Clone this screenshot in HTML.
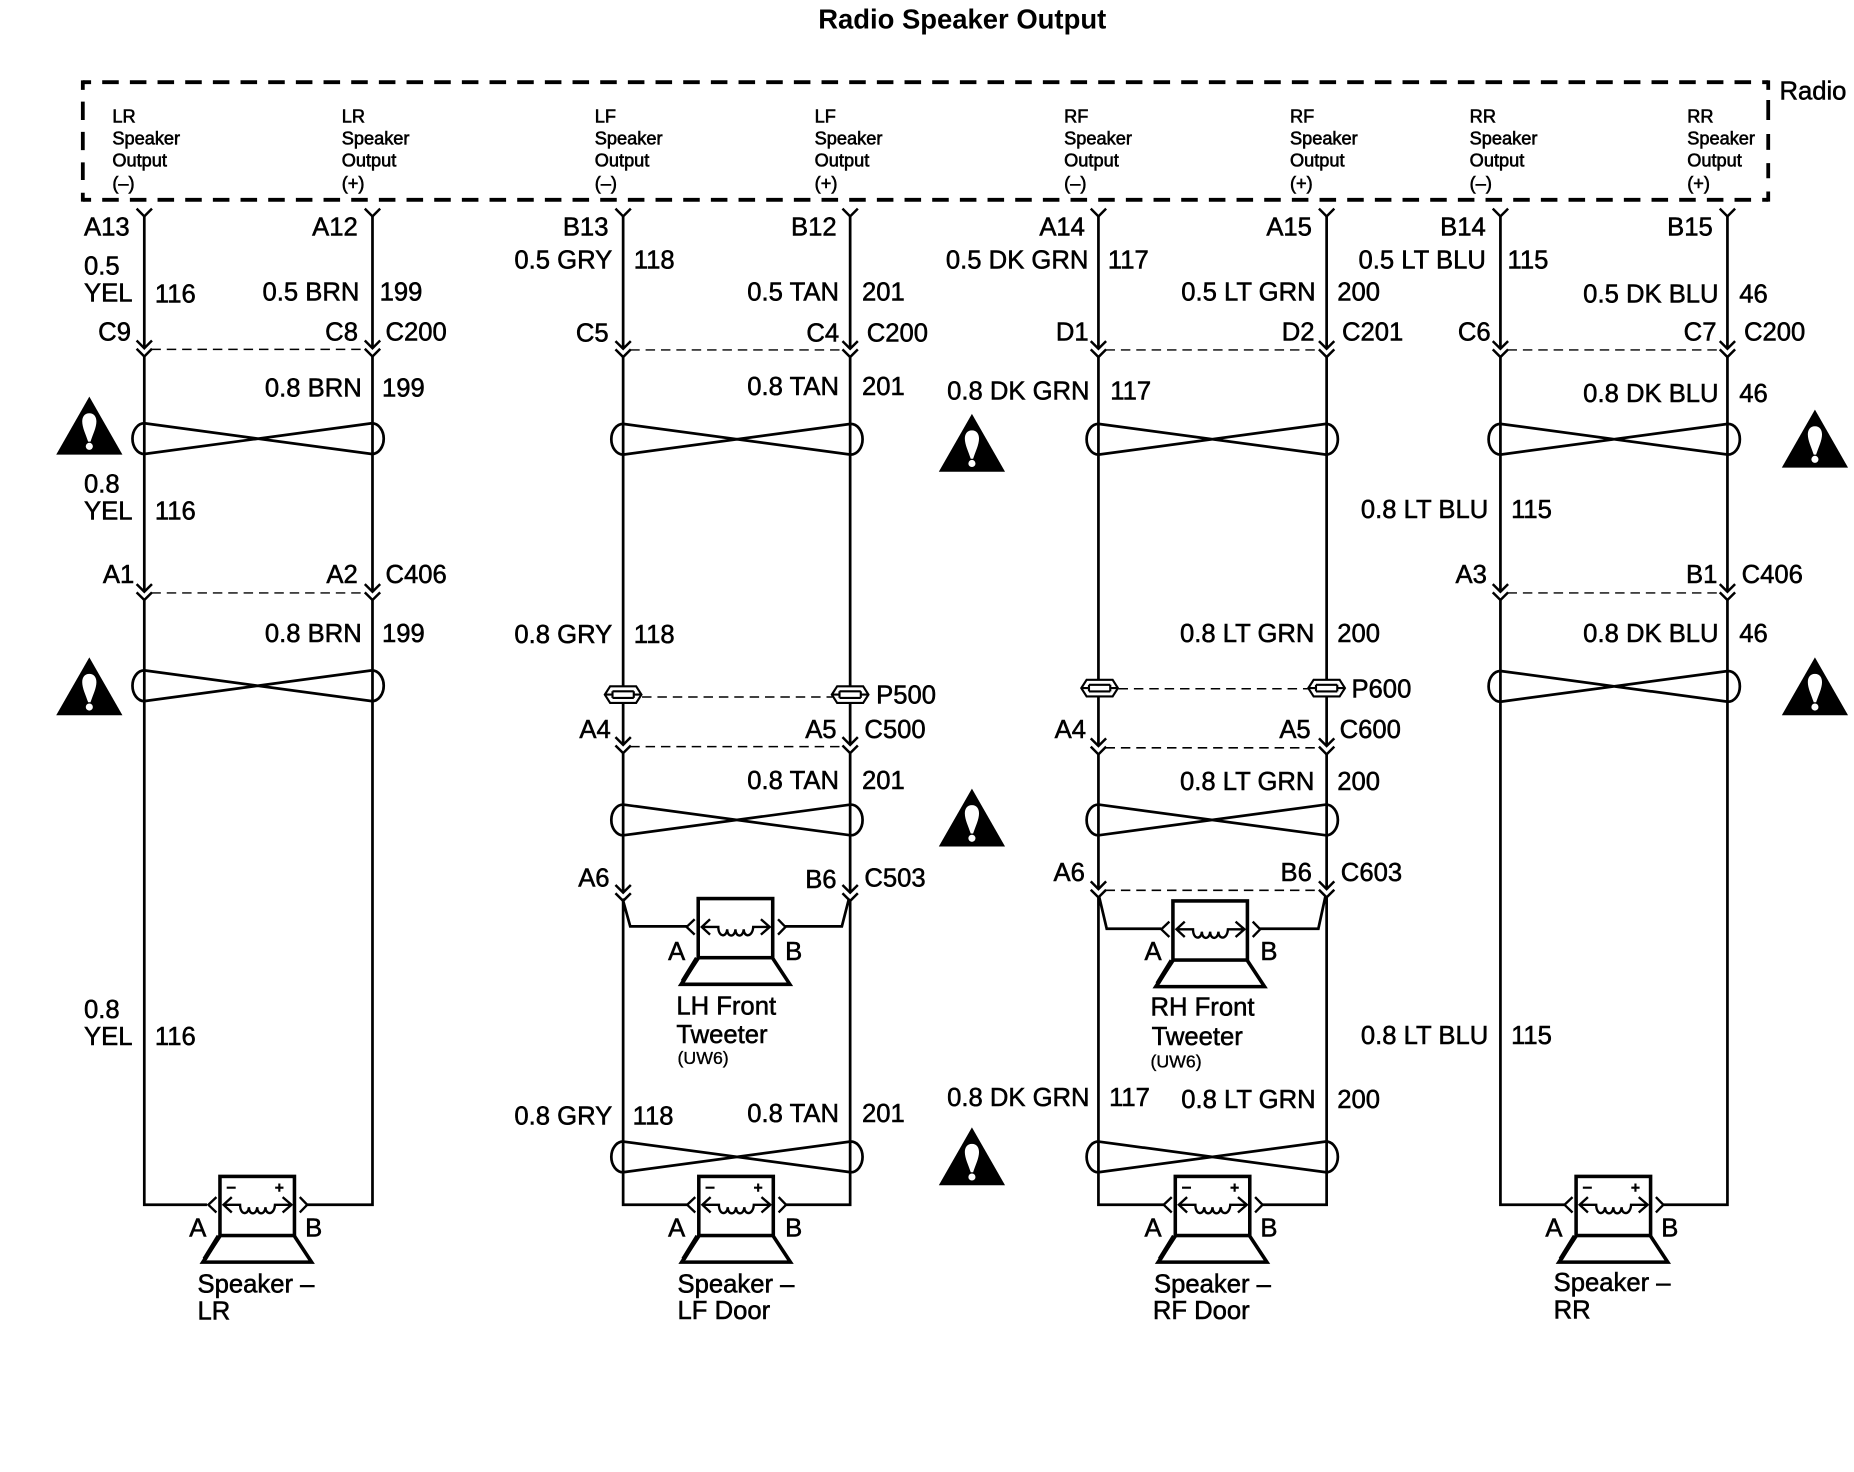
<!DOCTYPE html>
<html><head><meta charset="utf-8"><title>Radio Speaker Output</title>
<style>
html,body{margin:0;padding:0;background:#fff}
svg{display:block}
text{font-family:"Liberation Sans",sans-serif;font-size:21.7px;fill:#000;stroke:#000;stroke-width:.45}
.s{font-size:15.4px;stroke-width:.5}
.u{font-size:15px;stroke-width:.3}
.t{font-weight:bold;font-size:23.2px;stroke-width:0}
.w{fill:none;stroke:#000;stroke-width:2.3}
.d{fill:none;stroke:#000;stroke-width:1.3;stroke-dasharray:8 5}
</style></head><body>
<svg xmlns="http://www.w3.org/2000/svg" width="1854" height="1472" viewBox="0 0 1568 1245">
<defs>
<path id="conn" d="M-6.500-7.500L0-1L6.500-7.500M-6.500-.5L0 6L6.500-.5" fill="none" stroke="#000" stroke-width="2.100"/>
<path id="top" d="M-6.500 176.500L0 183L6.500 176.500" fill="none" stroke="#000" stroke-width="2.100"/>
<path id="tw" d="M0-13L192.500 13A10 13 0 0 0 192.500-13L0 13A10 13 0 0 1 0-13Z" fill="none" stroke="#000" stroke-width="2.300"/>
<g id="warn"><path d="M0 0L28 49H-28Z" fill="#000"/><path d="M0 14C-4 14-6 17-6 21C-6 26-3 32-1 38H1C3 32 6 26 6 21C6 17 4 14 0 14Z" fill="#fff"/><circle cx="0" cy="42" r="3" fill="#fff"/></g>
<g id="spk" fill="none" stroke="#000">
<rect x="0" y="0" width="63" height="50" stroke-width="3"/>
<path d="M0 50.500L-14.500 72.500H77.500L63 50.500" stroke-width="3"/>
<path d="M-1 50.500L-13 70" stroke-width="4"/>
<path d="M-3 17.500L-9.800 24L-3 30.500" stroke-width="2"/>
<path d="M67.500 17.500L73.800 24L67.500 30.500" stroke-width="2"/>
<path d="M10 17.500L3 24L10 30.500M3 24H17C17 33 24 33 24.500 26C24.500 33 31 33 31.500 26C31.500 33 38 33 38.500 26C38.500 33 46 33 46.500 24H60.500M53 17.500L60.500 24L53 30.500" stroke-width="2"/>
</g>
<g id="spl" fill="none" stroke="#000" stroke-width="1.800">
<path d="M-15.500 0L-11 -7H11L15.500 0L11 7H-11Z" fill="#fff"/>
<path d="M-15 0H-9M9 0H15M-9 -2.800H9M-9 2.800H9M-9 -2.800V2.800M9 -2.800V2.800"/>
</g>
</defs>

<text class="t" x="692" y="24">Radio Speaker Output</text>

<path d="M70 69.500H1495.500M70 169H1495.500" fill="none" stroke="#000" stroke-width="3.200" stroke-dasharray="14 9.400" stroke-dashoffset="7"/>
<path d="M70 68V76M70 86V101.500M70 111.500V127M70 137.300V152.200M70 163V170.500M1495.500 68V76M1495.500 84.600V101.500M1495.500 113.300V126.800M1495.500 138V150.800M1495.500 162V170.500" fill="none" stroke="#000" stroke-width="3.200"/>
<text x="1505" y="84">Radio</text>

<text class="s" x="95" y="103.500">LR</text><text class="s" x="95" y="122.400">Speaker</text><text class="s" x="95" y="141">Output</text><text class="s" x="95" y="160.400">(–)</text>
<text class="s" x="289" y="103.500">LR</text><text class="s" x="289" y="122.400">Speaker</text><text class="s" x="289" y="141">Output</text><text class="s" x="289" y="160.400">(+)</text>
<text class="s" x="503" y="103.500">LF</text><text class="s" x="503" y="122.400">Speaker</text><text class="s" x="503" y="141">Output</text><text class="s" x="503" y="160.400">(–)</text>
<text class="s" x="689" y="103.500">LF</text><text class="s" x="689" y="122.400">Speaker</text><text class="s" x="689" y="141">Output</text><text class="s" x="689" y="160.400">(+)</text>
<text class="s" x="900" y="103.500">RF</text><text class="s" x="900" y="122.400">Speaker</text><text class="s" x="900" y="141">Output</text><text class="s" x="900" y="160.400">(–)</text>
<text class="s" x="1091" y="103.500">RF</text><text class="s" x="1091" y="122.400">Speaker</text><text class="s" x="1091" y="141">Output</text><text class="s" x="1091" y="160.400">(+)</text>
<text class="s" x="1243" y="103.500">RR</text><text class="s" x="1243" y="122.400">Speaker</text><text class="s" x="1243" y="141">Output</text><text class="s" x="1243" y="160.400">(–)</text>
<text class="s" x="1427" y="103.500">RR</text><text class="s" x="1427" y="122.400">Speaker</text><text class="s" x="1427" y="141">Output</text><text class="s" x="1427" y="160.400">(+)</text>

<!-- wires -->
<path class="w" d="M122 183V294M122 301V500M122 507V1019H175"/>
<path class="w" d="M315 183V294M315 301V500M315 507V1019H260"/>
<path class="w" d="M527 183V295M527 302V629.500M527 636.500V754.500M527 761.500V1019H581M526.500 760L533 783.500H581"/>
<path class="w" d="M719 183V295M719 302V629.500M719 636.500V754.500M719 761.500V1019H664M718 760L712 783.500H664"/>
<path class="w" d="M929 183V295M929 302V630M929 637V751M929 758V1019H984M929.500 758L936 785.500H982"/>
<path class="w" d="M1122 183V295M1122 302V630M1122 637V751M1122 758V1019H1067M1121 758L1115 785.500H1065"/>
<path class="w" d="M1269 183V295M1269 302V500M1269 507V1019H1323"/>
<path class="w" d="M1461 183V295M1461 302V500M1461 507V1019H1406"/>

<!-- top chevrons -->
<use href="#top" x="122"/><use href="#top" x="315"/><use href="#top" x="527"/><use href="#top" x="719"/><use href="#top" x="929"/><use href="#top" x="1122"/><use href="#top" x="1269"/><use href="#top" x="1461"/>

<!-- connectors -->
<use href="#conn" x="122" y="295.500"/><use href="#conn" x="315" y="295.500"/>
<use href="#conn" x="122" y="501.500"/><use href="#conn" x="315" y="501.500"/>
<use href="#conn" x="527" y="296"/><use href="#conn" x="719" y="296"/>
<use href="#conn" x="527" y="631"/><use href="#conn" x="719" y="631"/>
<use href="#conn" x="527" y="756"/><use href="#conn" x="719" y="756"/>
<use href="#conn" x="929" y="296"/><use href="#conn" x="1122" y="296"/>
<use href="#conn" x="929" y="632"/><use href="#conn" x="1122" y="632"/>
<use href="#conn" x="929" y="753"/><use href="#conn" x="1122" y="753"/>
<use href="#conn" x="1269" y="296"/><use href="#conn" x="1461" y="296"/>
<use href="#conn" x="1269" y="501.500"/><use href="#conn" x="1461" y="501.500"/>

<path class="d" style="stroke-width:1.200" d="M128 295.500H309M533 296H713M935 296H1116M1275 296H1455"/>
<path class="d" style="stroke-width:1.200" d="M128 501.500H309M1275 501.500H1455"/>
<path class="d" d="M533 631.500H713M935 632.500H1116M935 753H1116M543 589.500H704M946 582.500H1107"/>

<!-- twists -->
<use href="#tw" x="122" y="371"/><use href="#tw" x="122" y="580"/>
<use href="#tw" x="527" y="371.500"/><use href="#tw" x="527" y="693.500"/><use href="#tw" x="527" y="978.500"/>
<use href="#tw" x="929" y="371.500"/><use href="#tw" x="929" y="693.500"/><use href="#tw" x="929" y="978.500"/>
<use href="#tw" x="1269" y="371.500"/><use href="#tw" x="1269" y="580.500"/>

<!-- splices -->
<use href="#spl" x="527" y="587.500"/><use href="#spl" x="719" y="587.500"/>
<use href="#spl" x="930" y="582"/><use href="#spl" x="1122" y="582"/>

<!-- warnings -->
<use href="#warn" x="75.500" y="335.500"/><use href="#warn" x="75.500" y="556"/>
<use href="#warn" x="822" y="350"/><use href="#warn" x="822" y="667"/><use href="#warn" x="822" y="953.500"/>
<use href="#warn" x="1535" y="346.500"/><use href="#warn" x="1535" y="556"/>

<!-- speakers -->
<use href="#spk" x="186" y="995"/><use href="#spk" x="591" y="995"/><use href="#spk" x="994" y="995"/><use href="#spk" x="1333" y="995"/>
<use href="#spk" x="590.500" y="760"/><use href="#spk" x="992" y="762"/>
<path d="M191.700 1004.500H199.300M236.200 1001V1008M232.700 1004.500H239.700M596.700 1004.500H604.300M641.200 1001V1008M637.700 1004.500H644.700M999.700 1004.500H1007.300M1044.200 1001V1008M1040.700 1004.500H1047.700M1338.700 1004.500H1346.300M1383.200 1001V1008M1379.700 1004.500H1386.700" stroke="#000" stroke-width="1.800" fill="none"/>

<!-- labels -->
<text x="71" y="199">A13</text><text x="264" y="199">A12</text><text x="476" y="199">B13</text><text x="669" y="199">B12</text>
<text x="879" y="199">A14</text><text x="1071" y="199">A15</text><text x="1218" y="199">B14</text><text x="1410" y="199">B15</text>

<text x="71" y="232">0.5</text><text x="71" y="255">YEL</text><text x="131" y="256">116</text>
<text x="222" y="254">0.5 BRN</text><text x="321" y="254">199</text>
<text x="435" y="227">0.5 GRY</text><text x="536" y="227">118</text>
<text x="632" y="254">0.5 TAN</text><text x="729" y="254">201</text>
<text x="800" y="227">0.5 DK GRN</text><text x="937" y="227">117</text>
<text x="999" y="254">0.5 LT GRN</text><text x="1131" y="254">200</text>
<text x="1149" y="227">0.5 LT BLU</text><text x="1275" y="227">115</text>
<text x="1339" y="256">0.5 DK BLU</text><text x="1471" y="256">46</text>

<text x="83" y="288">C9</text><text x="275" y="288">C8</text><text x="326" y="288">C200</text>
<text x="487" y="289">C5</text><text x="682" y="289">C4</text><text x="733" y="289">C200</text>
<text x="893" y="288">D1</text><text x="1084" y="288">D2</text><text x="1135" y="288">C201</text>
<text x="1233" y="288">C6</text><text x="1424" y="288">C7</text><text x="1475" y="288">C200</text>

<text x="224" y="335.500">0.8 BRN</text><text x="323" y="335.500">199</text>
<text x="632" y="334">0.8 TAN</text><text x="729" y="334">201</text>
<text x="801" y="338">0.8 DK GRN</text><text x="939" y="338">117</text>
<text x="1339" y="340">0.8 DK BLU</text><text x="1471" y="340">46</text>

<text x="71" y="416.500">0.8</text><text x="71" y="439.500">YEL</text><text x="131" y="439.500">116</text>
<text x="1151" y="438">0.8 LT BLU</text><text x="1278" y="438">115</text>

<text x="87" y="493">A1</text><text x="276" y="493">A2</text><text x="326" y="493">C406</text>
<text x="1231" y="493">A3</text><text x="1426" y="493">B1</text><text x="1473" y="493">C406</text>

<text x="224" y="543">0.8 BRN</text><text x="323" y="543">199</text>
<text x="435" y="544">0.8 GRY</text><text x="536" y="544">118</text>
<text x="998" y="543">0.8 LT GRN</text><text x="1131" y="543">200</text>
<text x="1339" y="543">0.8 DK BLU</text><text x="1471" y="543">46</text>

<text x="741" y="595">P500</text><text x="1143" y="590">P600</text>

<text x="490" y="624">A4</text><text x="681" y="624">A5</text><text x="731" y="624">C500</text>
<text x="892" y="624">A4</text><text x="1082" y="624">A5</text><text x="1133" y="624">C600</text>

<text x="632" y="667.500">0.8 TAN</text><text x="729" y="667.500">201</text>
<text x="998" y="668">0.8 LT GRN</text><text x="1131" y="668">200</text>

<text x="489" y="750">A6</text><text x="681" y="751">B6</text><text x="731" y="750">C503</text>
<text x="891" y="745">A6</text><text x="1083" y="745">B6</text><text x="1134" y="745">C603</text>

<text x="565" y="812">A</text><text x="664" y="812">B</text>
<text x="572" y="858">LH Front</text><text x="572" y="882">Tweeter</text><text class="u" x="573" y="900">(UW6)</text>
<text x="968" y="812">A</text><text x="1066" y="812">B</text>
<text x="973" y="859">RH Front</text><text x="974" y="884">Tweeter</text><text class="u" x="973" y="903">(UW6)</text>

<text x="71" y="861">0.8</text><text x="71" y="884">YEL</text><text x="131" y="884">116</text>
<text x="1151" y="883">0.8 LT BLU</text><text x="1278" y="883">115</text>

<text x="435" y="951">0.8 GRY</text><text x="535" y="951">118</text>
<text x="632" y="949">0.8 TAN</text><text x="729" y="949">201</text>
<text x="801" y="935.500">0.8 DK GRN</text><text x="938" y="935.500">117</text>
<text x="999" y="937">0.8 LT GRN</text><text x="1131" y="937">200</text>

<text x="160" y="1046">A</text><text x="258" y="1046">B</text><text x="167" y="1093">Speaker –</text><text x="167" y="1116">LR</text>
<text x="565" y="1046">A</text><text x="664" y="1046">B</text><text x="573" y="1093">Speaker –</text><text x="573" y="1115.500">LF Door</text>
<text x="968" y="1046">A</text><text x="1066" y="1046">B</text><text x="976" y="1093">Speaker –</text><text x="975" y="1115.500">RF Door</text>
<text x="1307" y="1046">A</text><text x="1405" y="1046">B</text><text x="1314" y="1092">Speaker –</text><text x="1314" y="1115">RR</text>
</svg>
</body></html>
